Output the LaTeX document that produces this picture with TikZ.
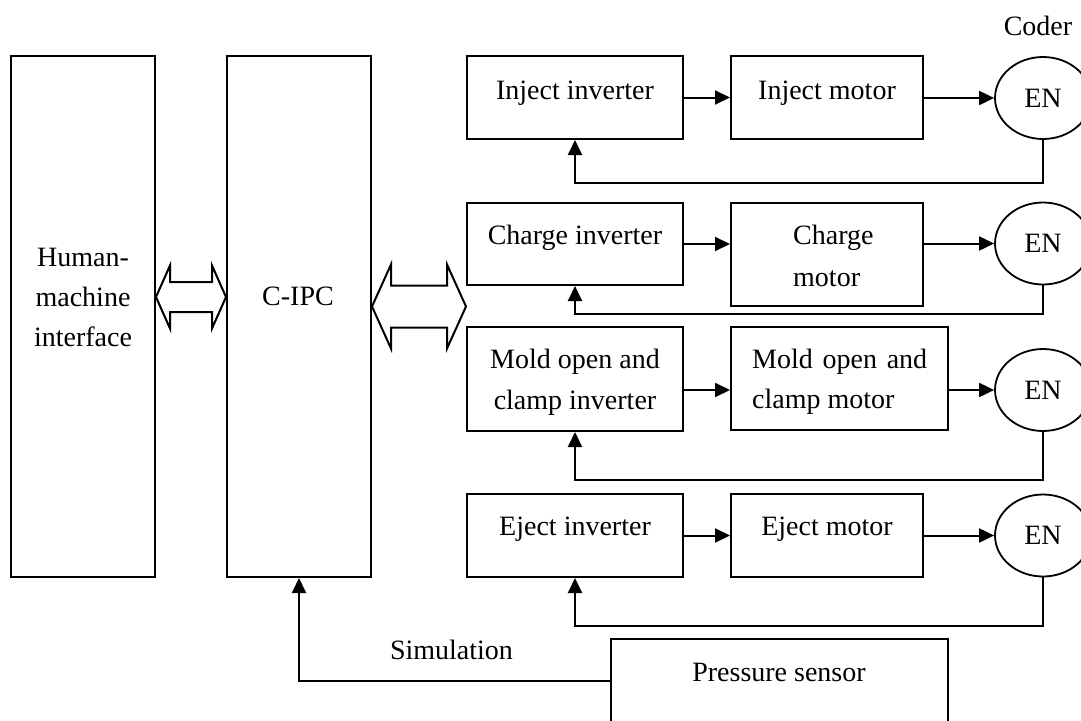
\documentclass[tikz,border=0pt]{standalone}
\usepackage{fontspec}
\setmainfont{Liberation Serif}
\usetikzlibrary{arrows.meta,shapes.geometric,calc}
\newcommand\dblarr[5]{\draw[dbl] let \p1=(#1), \p2=(#2) in (\x1,\y1) -- (\x1+#5,\y1+#4) -- (\x1+#5,\y1+#3) -- (\x2-#5,\y2+#3) -- (\x2-#5,\y2+#4) -- (\x2,\y2) -- (\x2-#5,\y2-#4) -- (\x2-#5,\y2-#3) -- (\x1+#5,\y1-#3) -- (\x1+#5,\y1-#4) -- cycle;}
\begin{document}
\begin{tikzpicture}[x=1pt,y=-1pt,
 box/.style={draw, line width=2pt, rectangle, inner sep=0pt},
 enc/.style={draw, line width=1.8pt, ellipse, minimum width=96pt, minimum height=82pt, inner sep=0pt, font=\fontsize{28}{34}\selectfont},
 txt/.style={anchor=base, inner sep=0pt, font=\fontsize{28}{34}\selectfont},
 arr/.style={line width=2pt, -{Triangle[length=15pt,width=14pt]}},
 dbl/.style={line width=2pt, line join=miter}]
\useasboundingbox (0,0) rectangle (1081,720);
\clip (0,0) rectangle (1081,720);
% boxes
\node[box,minimum width=144pt,minimum height=521pt] (hmi) at (83,316.5) {};
\node[box,minimum width=144pt,minimum height=521pt] (cipc) at (299,316.5) {};
\node[box,minimum width=216pt,minimum height=83pt] (ii) at (575,97.5) {};
\node[box,minimum width=192pt,minimum height=83pt] (im) at (827,97.5) {};
\node[enc] (e1) at (1043,98) {EN};
\node[box,minimum width=216pt,minimum height=82pt] (ci) at (575,244) {};
\node[box,minimum width=192pt,minimum height=103pt] (cm) at (827,254.5) {};
\node[enc] (e2) at (1043,243.5) {EN};
\node[box,minimum width=216pt,minimum height=104pt] (mi) at (575,379) {};
\node[box,minimum width=217pt,minimum height=103pt] (mm) at (839.5,378.5) {};
\node[enc] (e3) at (1043,390) {EN};
\node[box,minimum width=216pt,minimum height=83pt] (ei) at (575,535.5) {};
\node[box,minimum width=192pt,minimum height=83pt] (em) at (827,535.5) {};
\node[enc] (e4) at (1043,535.5) {EN};
\node[box,minimum width=337pt,minimum height=84pt] (ps) at (779.5,681) {};
% texts
\node[txt] (t-coder) at (1038,35) {Coder};
\node[txt] (t-h1) at (83,266) {Human-};
\node[txt] (t-h2) at (83,306) {machine};
\node[txt] (t-h3) at (83,346) {interface};
\node[txt] (t-cipc) at (298,305) {C-IPC};
\node[txt] (t-ii) at (575,99) {Inject inverter};
\node[txt] (t-im) at (827,99) {Inject motor};
\node[txt] (t-ci) at (575,244) {Charge inverter};
\node[txt,anchor=base west] (t-cm1) at (793,244) {Charge};
\node[txt,anchor=base west] (t-cm2) at (793,286) {motor};
\node[txt] (t-mi1) at (575,368) {Mold open and};
\node[txt] (t-mi2) at (575,409) {clamp inverter};
\node[txt,anchor=base west] (t-mm1) at (752,368) {\hbox to 175pt{Mold\hfil open\hfil and}};
\node[txt,anchor=base west] (t-mm2) at (752,408) {clamp motor};
\node[txt] (t-ei) at (575,535) {Eject inverter};
\node[txt] (t-em) at (827,535) {Eject motor};
\node[txt] (t-sim) at (451.5,659) {Simulation};
\node[txt] (t-ps) at (779,681) {Pressure sensor};
% forward arrows
\draw[arr] (ii.east) -- (im.west);
\draw[arr] (im.east |- e1.west) -- (e1.west);
\draw[arr] (ci.east) -- (cm.west |- ci.east);
\draw[arr] (cm.east |- e2.west) -- (e2.west);
\draw[arr] (mi.east |- e3.west) -- (mm.west |- e3.west);
\draw[arr] (mm.east |- e3.west) -- (e3.west);
\draw[arr] (ei.east) -- (em.west);
\draw[arr] (em.east) -- (e4.west);
% feedback
\draw[arr] (e1.south) -- ++(0,43) -| (ii.south);
\draw[arr] (e2.south) -- ++(0,29) -| (ci.south);
\draw[arr] (e3.south) -- ++(0,48) -| (mi.south);
\draw[arr] (e4.south) -- ++(0,48.5) -| (ei.south);
\draw[arr] (ps.west) -| (cipc.south);
% double arrows
\path (hmi.east) ++(0,-19.5) coordinate (da1);
\path (cipc.west) ++(0,-19.5) coordinate (da2);
\path (cipc.east) ++(0,-10) coordinate (db1);
\path (ci.west |- db1) coordinate (db2);
\dblarr{da1}{da2}{15pt}{31.5pt}{14pt}
\dblarr{db1}{db2}{21pt}{42pt}{19pt}
\end{tikzpicture}
\end{document}
